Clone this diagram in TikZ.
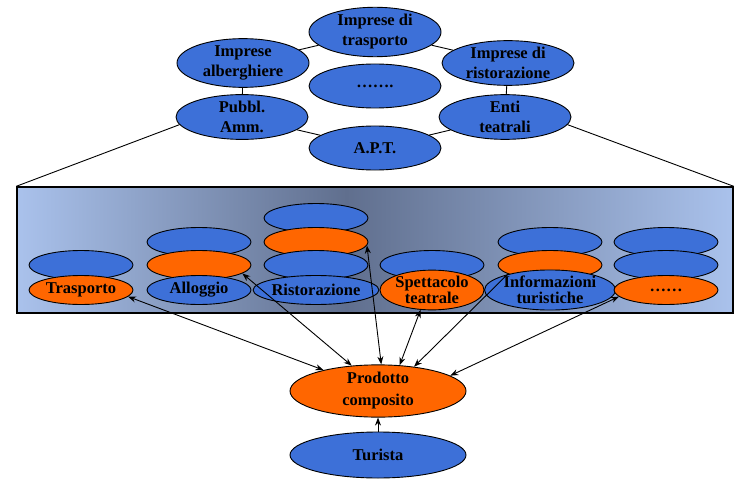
\documentclass[tikz,border=0pt]{standalone}
\usepackage{fontspec}
\setmainfont{Liberation Serif}
\usetikzlibrary{shapes.geometric,arrows.meta}
\definecolor{blueF}{RGB}{61,112,216}
\definecolor{orangeF}{RGB}{255,102,0}
\definecolor{lightb}{RGB}{170,194,236}
\definecolor{darkb}{RGB}{96,111,142}
\pgfdeclarehorizontalshading{boxshade}{100bp}{color(0bp)=(lightb); color(25bp)=(lightb); color(48bp)=(darkb); color(75bp)=(lightb); color(100bp)=(lightb)}
\tikzset{
  ell/.style={ellipse, draw=black, line width=0.9pt, inner sep=0pt, align=center,
    font=\bfseries\fontsize{16.5}{20}\selectfont},
  bigell/.style={ell, minimum width=132, minimum height=44},
  smell/.style={ell, minimum width=104, minimum height=29, font=\bfseries\fontsize{16.5}{16.5}\selectfont},
  botell/.style={ell, minimum width=176, minimum height=46, font=\bfseries\fontsize{16.5}{22}\selectfont},
  bl/.style={fill=blueF},
  or/.style={fill=orangeF},
  link/.style={draw=black, line width=0.9pt},
  arr/.style={draw=black, line width=0.9pt, {Stealth[length=8pt,width=6pt]}-{Stealth[length=8pt,width=6pt]}},
  sarr/.style={draw=black, line width=0.9pt, -{Stealth[length=8pt,width=6pt]}}
}
\begin{document}
\begin{tikzpicture}[x=1pt,y=-1pt]
\useasboundingbox (0,0) rectangle (741,484);
% top cluster
\node[bigell,bl] (tra) at (375,32) {Imprese di\\trasporto};
\node[bigell,bl] (alb) at (243,63) {Imprese\\alberghiere};
\node[bigell,bl] (ris) at (508,63) {Imprese di\\ristorazione};
\node[bigell,bl] (dot) at (375,86) {…….};
\node[bigell,bl] (pub) at (242,117) {Pubbl.\\Amm.};
\node[bigell,bl] (ent) at (505,117) {Enti\\teatrali};
\node[bigell,bl] (apt) at (375,148) {A.P.T.};
\draw[link] (tra) -- (alb);
\draw[link] (tra) -- (ris);
\draw[link] (alb) -- (pub);
\draw[link] (ris) -- (ent);
\draw[link] (pub) -- (apt);
\draw[link] (ent) -- (apt);
% box
\node[draw=black, line width=1.4pt, rectangle, minimum width=716, minimum height=126, inner sep=0pt, shading=boxshade] (box) at (375,250) {};
\draw[link] (pub.187) -- (box.north west);
\draw[link] (ent.-7) -- (box.north east);
% stack 1
\node[smell,bl] (t1) at (81,265) {};
\node[smell,or] (t2) at (81,290) {Trasporto};
% stack 2
\node[smell,bl] (a1) at (199,242) {};
\node[smell,or] (a2) at (199,265) {};
\node[smell,bl] (a3) at (199,290) {Alloggio};
% stack 3
\node[smell,bl] (r1) at (316,218) {};
\node[smell,or] (r2) at (316,242) {};
\node[smell,bl] (r3) at (316,265) {};
\node[smell,bl] (r4) at (316,290) {Ristorazione};
% stack 4
\node[smell,bl] (s1) at (432,265) {};
\node[smell,or] (s2) at (432,290) {Spettacolo\\teatrale};
% stack 5
\node[smell,bl] (i1) at (550,242) {};
\node[smell,or] (i2) at (550,265) {};
\node[smell,bl] (i3) at (550,290) {Informazioni\\turistiche};
% stack 6
\node[smell,bl] (d1) at (666,242) {};
\node[smell,bl] (d2) at (666,265) {};
\node[smell,or] (d3) at (666,290) {……};
% bottom
\node[botell,or] (prod) at (378,391) {Prodotto\\composito};
\node[botell,bl] (tur) at (378,455) {Turista};
\draw[sarr] (tur) -- (prod);
\draw[arr] (t2.-8) -- (prod.159);
\draw[arr] (a2.-11) -- (prod.136);
\draw[arr] (r2.-4) -- (prod.83);
\draw[arr] (s2.-120) -- (prod.50);
\draw[sarr] (i2.192) -- (prod.34);
\draw[arr] (d3.188) -- (prod.12);
\end{tikzpicture}
\end{document}
